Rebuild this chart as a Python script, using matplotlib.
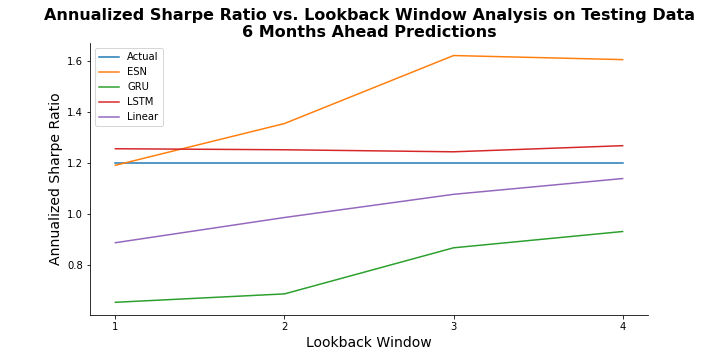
import matplotlib.pyplot as plt

# Lookback windows on the x axis
lookback = [1, 2, 3, 4]

# Annualized Sharpe ratio per model
actual = [1.200, 1.200, 1.200, 1.200]
esn = [1.191, 1.355, 1.622, 1.606]
gru = [0.653, 0.686, 0.867, 0.931]
lstm = [1.256, 1.252, 1.244, 1.268]
linear = [0.887, 0.986, 1.077, 1.139]

fig, ax = plt.subplots(figsize=(10, 5), dpi=72)
fig.subplots_adjust(left=0.125, right=0.9, top=0.88, bottom=0.126)

ax.plot(lookback, actual, label='Actual')
ax.plot(lookback, esn, label='ESN')
ax.plot(lookback, gru, label='GRU')
ax.plot(lookback, lstm, label='LSTM')
ax.plot(lookback, linear, label='Linear')

ax.set_xticks(lookback)
ax.set_xlabel('Lookback Window', fontsize=14)
ax.set_ylabel('Annualized Sharpe Ratio', fontsize=14)
ax.set_title('Annualized Sharpe Ratio vs. Lookback Window Analysis on Testing Data\n'
             '6 Months Ahead Predictions', fontsize=16, fontweight='bold')

ax.spines['top'].set_visible(False)
ax.spines['right'].set_visible(False)
ax.legend(loc='upper left')

fig.savefig('out.png', dpi=72)
